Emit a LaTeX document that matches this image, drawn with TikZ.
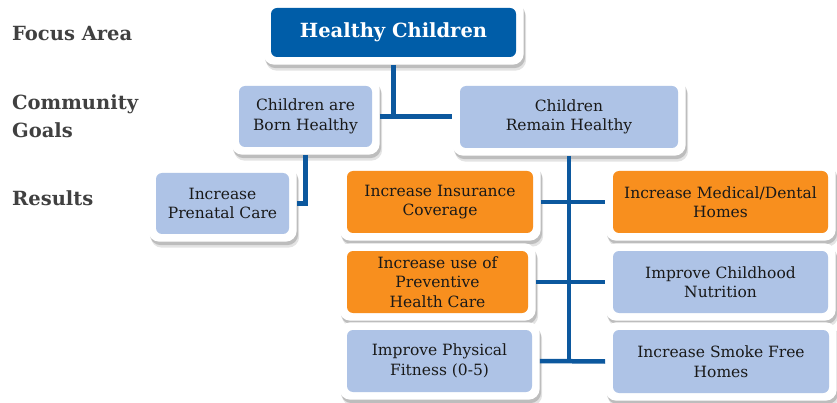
\documentclass[tikz,border=0pt]{standalone}
\usepackage{fontspec}
\setmainfont{DejaVu Serif}
\usetikzlibrary{shadows,fit,backgrounds}
\definecolor{titleblue}{RGB}{0,93,168}
\definecolor{lightblue}{RGB}{174,195,230}
\definecolor{orangebox}{RGB}{248,143,30}
\definecolor{linkblue}{RGB}{12,88,158}
\definecolor{labelgray}{RGB}{64,64,64}
\tikzset{
  x=1pt, y=1pt,
  inner/.style={rounded corners=6pt, align=center, inner sep=0pt, text=black!90,
    font=\fontsize{15.5}{19.5}\selectfont},
  bluebox/.style={inner, fill=lightblue},
  orangebox/.style={inner, fill=orangebox},
  titlebox/.style={inner, fill=titleblue, text=white, font=\fontsize{19.5}{22}\selectfont\bfseries},
  frame/.style={rounded corners=11pt, fill=white, inner sep=7.5pt,
    drop shadow={opacity=0.22, shadow xshift=2.5pt, shadow yshift=-6pt},
    drop shadow={opacity=0.38, shadow xshift=1.5pt, shadow yshift=-3.5pt}},
  link/.style={draw=linkblue, line width=4.5pt},
  sidelabel/.style={anchor=west, align=left, text=labelgray, inner sep=0pt,
    font=\fontsize{19.5}{28}\selectfont\bfseries}
}
\begin{document}
\begin{tikzpicture}
\useasboundingbox (0,0) rectangle (837,-403);
% inner boxes
\node[titlebox, minimum width=245, minimum height=49] (title) at (393.5,-32.5) {Healthy Children};
\node[bluebox, minimum width=133, minimum height=61] (born) at (305.5,-116.5) {Children are\\Born Healthy};
\node[bluebox, minimum width=218, minimum height=62] (remain) at (569,-117) {Children\\Remain Healthy};
\node[bluebox, minimum width=133, minimum height=61] (prenatal) at (222.5,-203.5) {Increase\\Prenatal Care};
\node[orangebox, minimum width=186, minimum height=62] (insurance) at (440,-202) {Increase Insurance\\Coverage};
\node[orangebox, minimum width=215, minimum height=62] (medical) at (720.5,-202) {Increase Medical/Dental\\Homes};
\node[orangebox, minimum width=181, minimum height=62] (preventive) at (437.5,-282) {Increase use of\\Preventive\\Health Care};
\node[bluebox, minimum width=215, minimum height=62] (nutrition) at (720.5,-282) {Improve Childhood\\Nutrition};
\node[bluebox, minimum width=185, minimum height=62] (fitness) at (439.5,-361) {Improve Physical\\Fitness (0-5)};
\node[bluebox, minimum width=216, minimum height=63] (smoke) at (721,-361.5) {Increase Smoke Free\\Homes};
% side labels
\node[sidelabel] (lfocus) at (12,-34) {Focus Area};
\node[sidelabel] (lgoals) at (12,-116) {Community\\Goals};
\node[sidelabel] (lresults) at (12,-198) {Results};
\begin{pgfonlayer}{background}
\foreach \n in {title,born,remain,prenatal,insurance,medical,preventive,nutrition,fitness,smoke}
  \node[frame, fit=(\n)] (\n F) {};
% connectors
\draw[link] (titleF.south) -- (titleF.south |- born.center);
\draw[link] (bornF.east |- born.center) -- (remainF.west |- born.center);
\draw[link] (bornF.south) |- (prenatalF.east);
\draw[link] (remainF.south) -- (remainF.south |- fitness.center);
\draw[link] (insuranceF.east) -- (medicalF.west);
\draw[link] (preventiveF.east) -- (nutritionF.west);
\draw[link] (fitnessF.east) -- (smokeF.west);
\end{pgfonlayer}
\end{tikzpicture}
\end{document}
